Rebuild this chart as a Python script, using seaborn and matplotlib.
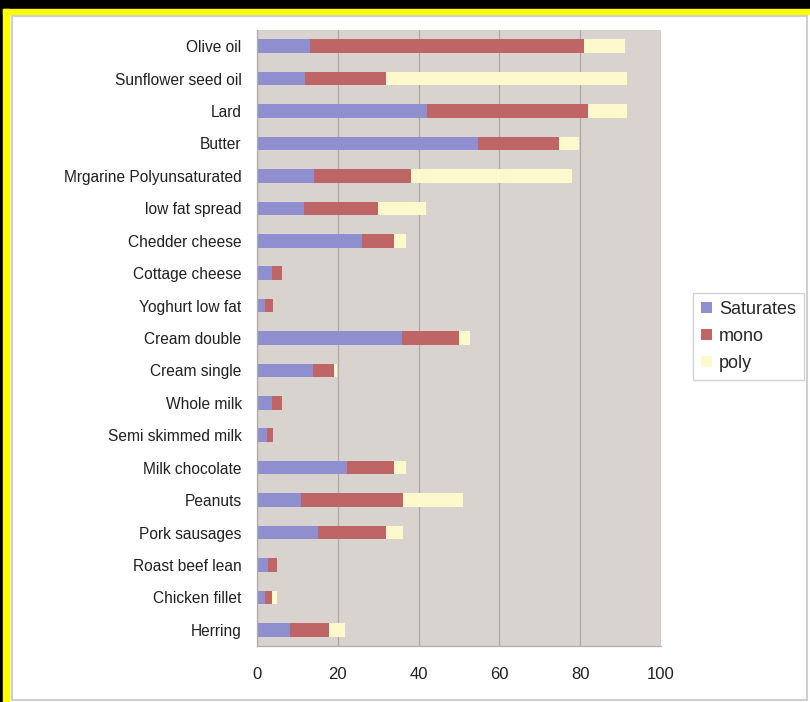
import matplotlib
matplotlib.use('Agg')
import matplotlib.pyplot as plt
import seaborn as sns
import pandas as pd
from matplotlib.patches import Rectangle, Patch

foods = ["Olive oil", "Sunflower seed oil", "Lard", "Butter", "Mrgarine Polyunsaturated",
         "low fat spread", "Chedder cheese", "Cottage cheese", "Yoghurt low fat",
         "Cream double", "Cream single", "Whole milk", "Semi skimmed milk",
         "Milk chocolate", "Peanuts", "Pork sausages", "Roast beef lean",
         "Chicken fillet", "Herring"]
saturates = [13, 12, 42, 54.6, 14, 11.7, 26, 3.8, 2.0, 36, 13.8, 3.8, 2.4, 22.2, 10.8, 15, 2.8, 2.1, 8.2]
mono = [68, 20, 40, 20.2, 24, 18.3, 8, 2.3, 2.0, 14, 5.3, 2.3, 1.5, 11.8, 25.3, 17, 2.2, 1.7, 9.7]
poly = [10, 59.5, 9.5, 4.9, 40, 11.8, 2.8, 0, 0, 2.8, 0.6, 0, 0, 2.8, 15, 4.1, 0, 1.1, 3.9]
series_names = ["Saturates", "mono", "poly"]
xticks = [0, 20, 40, 60, 80, 100]

sat_c, mono_c, poly_c = "#8f8fd0", "#bf6566", "#fdf9cc"

df = pd.DataFrame({"food": foods, "sat": saturates, "mono": mono, "poly": poly})
df["sat_mono"] = df["sat"] + df["mono"]
df["total"] = df["sat_mono"] + df["poly"]

sns.set_theme(style="white")
plt.rcParams['font.family'] = ['Liberation Sans', 'DejaVu Sans']

W, H = 810, 702
fig = plt.figure(figsize=(W / 100, H / 100), dpi=100, facecolor="white")

def fy(py):
    return 1 - py / H

# frame decorations
fig.patches.append(Rectangle((0, fy(9)), 1, 9 / H, transform=fig.transFigure, color="black", zorder=0))
fig.patches.append(Rectangle((0, 0), 3 / W, 1, transform=fig.transFigure, color="black", zorder=0))
fig.patches.append(Rectangle((3 / W, fy(14)), 1, 5 / H, transform=fig.transFigure, color="#ffff00", zorder=0))
fig.patches.append(Rectangle((3 / W, 0), 6 / W, fy(9), transform=fig.transFigure, color="#ffff00", zorder=0))
fig.patches.append(Rectangle((12 / W, fy(700)), (807 - 12) / W, (700 - 16) / H, transform=fig.transFigure,
                             facecolor="none", edgecolor="#cfcfcf", linewidth=1.5, zorder=0))

ax = fig.add_axes([257 / W, fy(646), (661 - 257) / W, (646 - 30) / H])
ax.set_facecolor("#d8d3cf")

sns.barplot(data=df, x="total", y="food", color=poly_c, width=0.42, saturation=1,
            linewidth=0, ax=ax, orient="h")
sns.barplot(data=df, x="sat_mono", y="food", color=mono_c, width=0.42, saturation=1,
            linewidth=0, ax=ax, orient="h")
sns.barplot(data=df, x="sat", y="food", color=sat_c, width=0.42, saturation=1,
            linewidth=0, ax=ax, orient="h")

ax.set_xlim(0, 100)
ax.set_ylim(len(foods) - 0.5, -0.5)
ax.set_xticks(xticks)
ax.set_xticklabels([str(t) for t in xticks])
ax.set_xlabel("")
ax.set_ylabel("")
ax.grid(axis="x", color="#aeaaa8", linewidth=0.9)
ax.grid(axis="y", visible=False)
ax.set_axisbelow(True)
for s in ["top", "right"]:
    ax.spines[s].set_visible(False)
for s in ["left", "bottom"]:
    ax.spines[s].set_color("#b0acaa")
    ax.spines[s].set_linewidth(0.9)

ax.tick_params(axis="y", length=0, pad=11, labelsize=11.2, labelcolor="#202020")
ax.tick_params(axis="x", length=4, color="#b0acaa", pad=11, labelsize=12, labelcolor="#202020")
ax.set_yticks([i + 0.5 for i in range(-1, len(foods))], minor=True)
ax.tick_params(axis="y", which="minor", length=3, color="#b0acaa", direction="out")

handles = [Patch(facecolor=c, edgecolor="none") for c in (sat_c, mono_c, poly_c)]
leg = fig.legend(handles, series_names, loc="upper left", bbox_to_anchor=(693 / W, fy(293)),
                 frameon=True, fancybox=False, edgecolor="#c8c8c8", fontsize=13,
                 handlelength=0.6, handleheight=0.6, handletextpad=0.4,
                 borderpad=0.45, labelspacing=0.55, borderaxespad=0)
leg.get_frame().set_linewidth(1.0)

fig.savefig("out.png", dpi=100, facecolor=fig.get_facecolor())
